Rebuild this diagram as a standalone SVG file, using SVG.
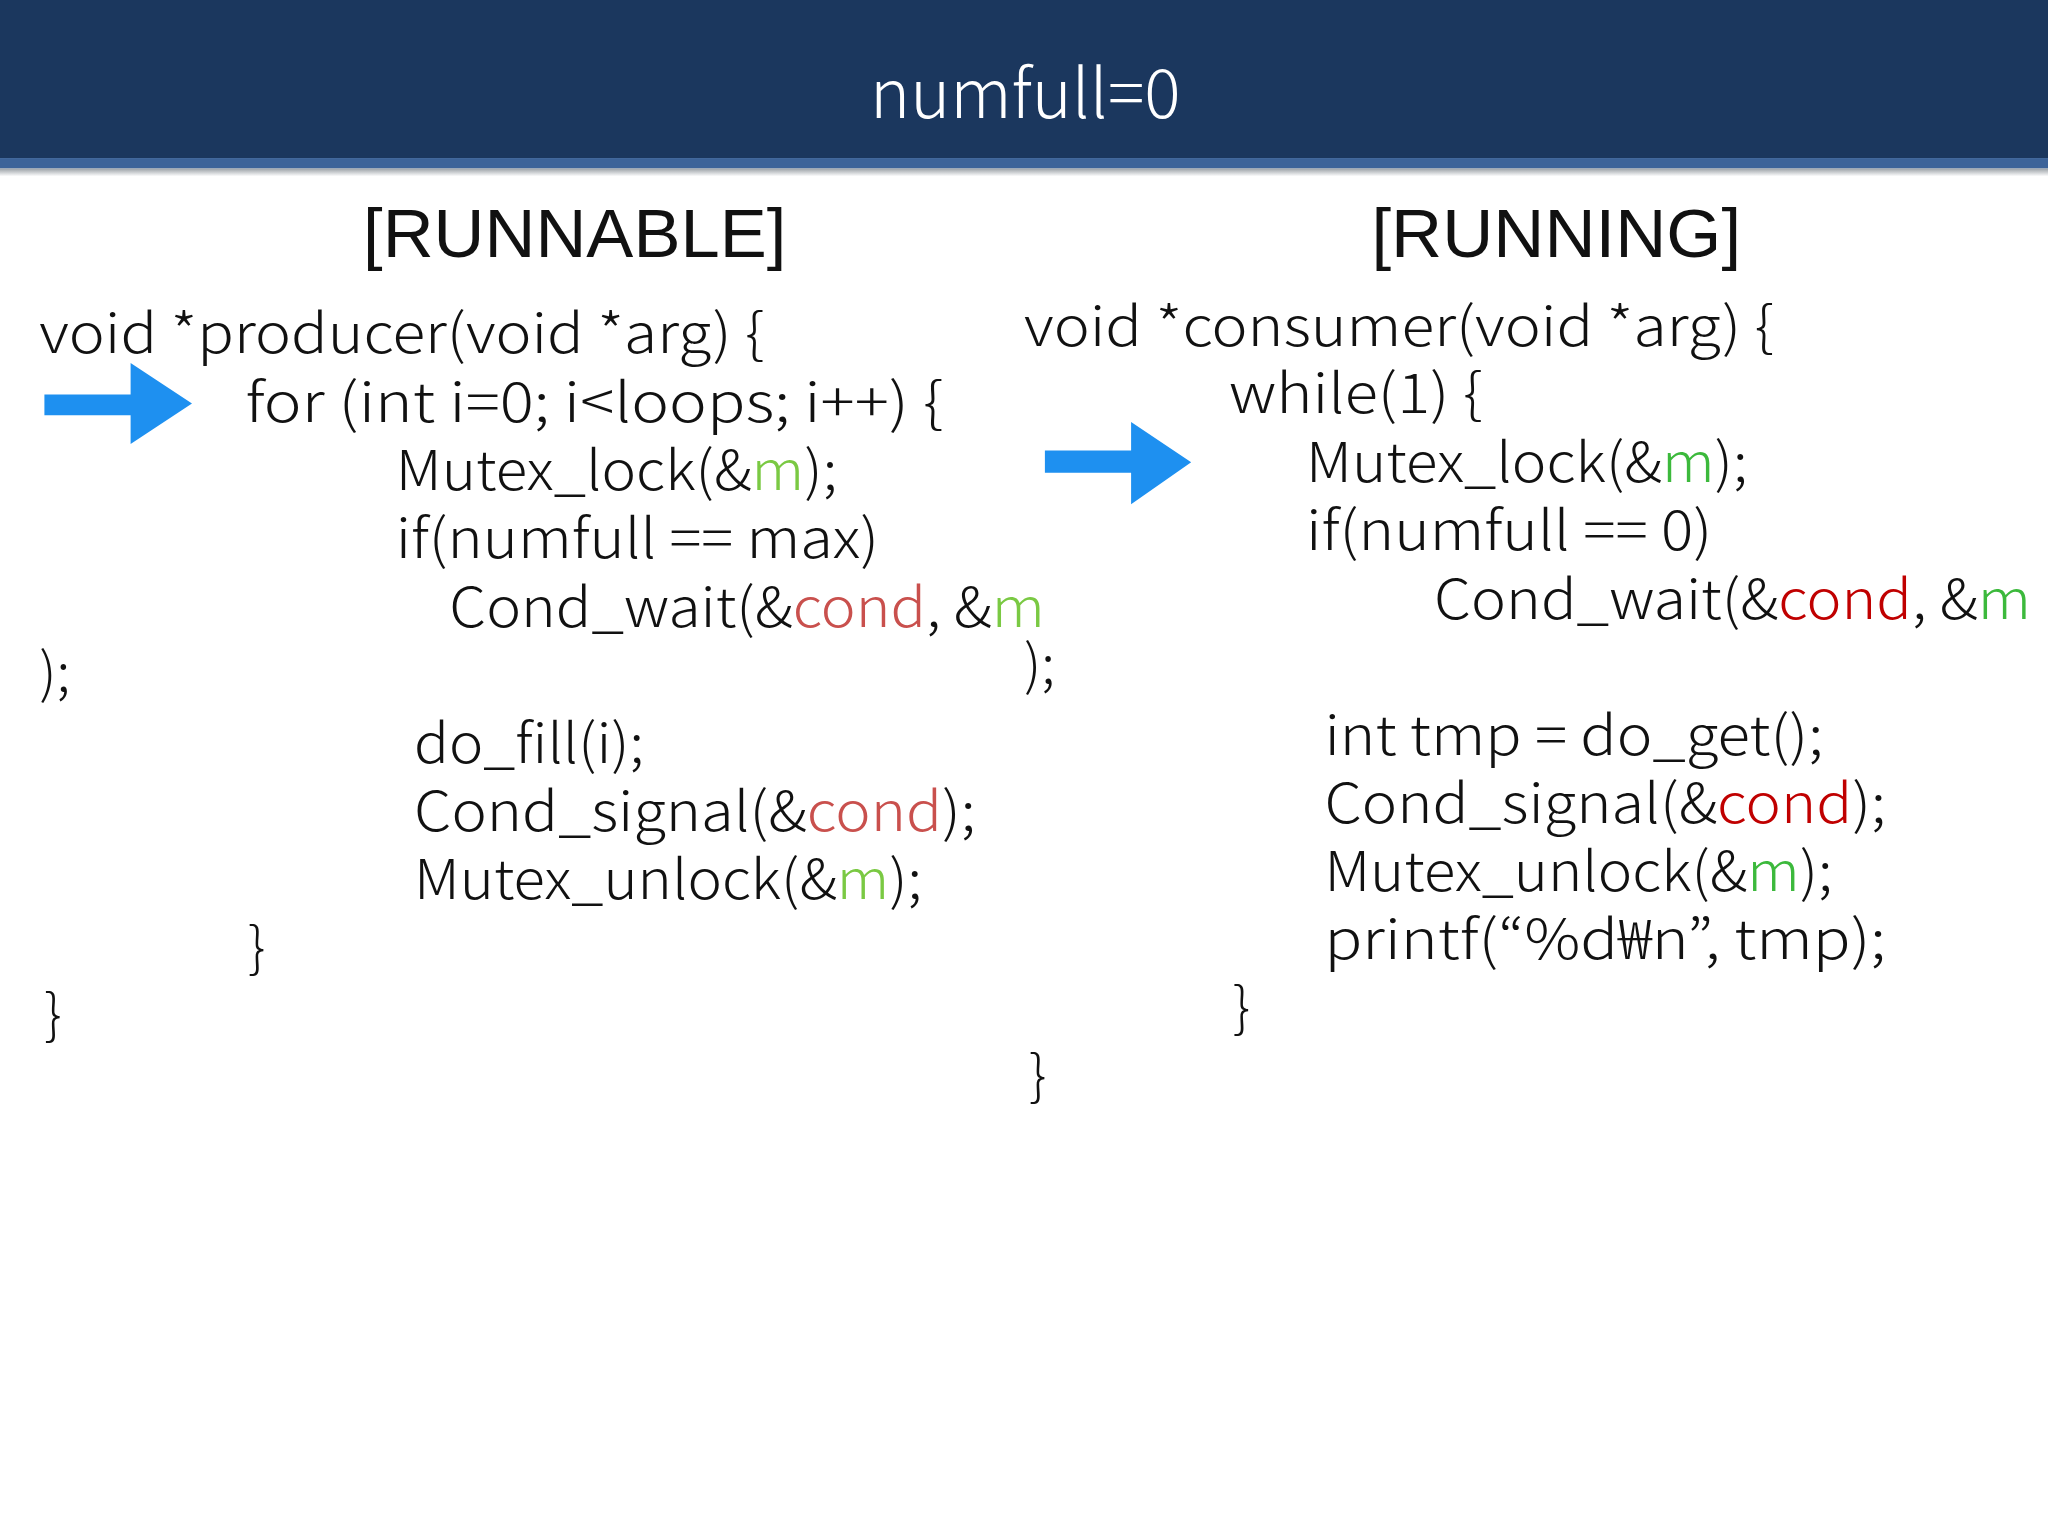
<svg xmlns="http://www.w3.org/2000/svg" width="2048" height="1536" viewBox="0 0 2048 1536">
<style>
.c{font-family:"Noto Sans CJK KR","Noto Sans",sans-serif;font-weight:300;font-size:42px;fill:#111}
.h{font-family:"Liberation Sans",Arial,sans-serif;font-size:52px;fill:#111}
.g1{fill:#7ac943}.r1{fill:#c9504d}.g2{fill:#3cb93c}.r2{fill:#c00000}
.arr{fill:#1e90f0}
</style>
<defs><linearGradient id="sh" x1="0" y1="0" x2="0" y2="1"><stop offset="0" stop-color="#9aa0a6"/><stop offset="1" stop-color="#ffffff"/></linearGradient></defs>
<rect width="2048" height="1536" fill="#fff"/>
<g transform="scale(1.30612)">
<g id="header">
<rect x="0" y="0" width="1568" height="121" fill="#1b375e"/>
<rect x="0" y="121" width="1568" height="8" fill="#3c6399"/>
<rect x="0" y="129" width="1568" height="6" fill="url(#sh)"/>
<text x="785" y="90" text-anchor="middle" style="font-family:'Noto Sans CJK KR','Noto Sans',sans-serif;font-weight:300;font-size:52px;fill:#fff">numfull=0</text>
</g>
<g id="producer">
<text class="h" x="278" y="197" textLength="324" lengthAdjust="spacingAndGlyphs">[RUNNABLE]</text>
<text class="c" x="30" y="270" textLength="555" lengthAdjust="spacingAndGlyphs">void *producer(void *arg) {</text>
<text class="c" x="188" y="323" textLength="534" lengthAdjust="spacingAndGlyphs">for (int i=0; i&lt;loops; i++) {</text>
<text class="c" x="303" y="375" textLength="338" lengthAdjust="spacingAndGlyphs">Mutex_lock(&amp;<tspan class="g1">m</tspan>);</text>
<text class="c" x="303" y="427" textLength="370" lengthAdjust="spacingAndGlyphs">if(numfull == max)</text>
<text class="c" x="344" y="480" textLength="456" lengthAdjust="spacingAndGlyphs">Cond_wait(&amp;<tspan class="r1">cond</tspan>, &amp;<tspan class="g1">m</tspan></text>
<text class="c" x="30" y="530">);</text>
<text class="c" x="317" y="584" textLength="176" lengthAdjust="spacingAndGlyphs">do_fill(i);</text>
<text class="c" x="317" y="636" textLength="430" lengthAdjust="spacingAndGlyphs">Cond_signal(&amp;<tspan class="r1">cond</tspan>);</text>
<text class="c" x="317" y="688" textLength="389" lengthAdjust="spacingAndGlyphs">Mutex_unlock(&amp;<tspan class="g1">m</tspan>);</text>
<text class="c" x="190" y="740">}</text>
<text class="c" x="34" y="792">}</text>
</g>
<g id="consumer">
<text class="h" x="1050" y="197" textLength="283" lengthAdjust="spacingAndGlyphs">[RUNNING]</text>
<text class="c" x="784" y="265" textLength="574" lengthAdjust="spacingAndGlyphs">void *consumer(void *arg) {</text>
<text class="c" x="941" y="316" textLength="194" lengthAdjust="spacingAndGlyphs">while(1) {</text>
<text class="c" x="1000" y="369" textLength="338" lengthAdjust="spacingAndGlyphs">Mutex_lock(&amp;<tspan class="g2">m</tspan>);</text>
<text class="c" x="1000" y="421" textLength="311" lengthAdjust="spacingAndGlyphs">if(numfull == 0)</text>
<text class="c" x="1098" y="474" textLength="457" lengthAdjust="spacingAndGlyphs">Cond_wait(&amp;<tspan class="r2">cond</tspan>, &amp;<tspan class="g2">m</tspan></text>
<text class="c" x="784" y="524">);</text>
<text class="c" x="1014" y="578" textLength="382" lengthAdjust="spacingAndGlyphs">int tmp = do_get();</text>
<text class="c" x="1014" y="630" textLength="430" lengthAdjust="spacingAndGlyphs">Cond_signal(&amp;<tspan class="r2">cond</tspan>);</text>
<text class="c" x="1014" y="682" textLength="389" lengthAdjust="spacingAndGlyphs">Mutex_unlock(&amp;<tspan class="g2">m</tspan>);</text>
<text class="c" x="1014" y="734" textLength="430" lengthAdjust="spacingAndGlyphs">printf(“%d₩n”, tmp);</text>
<text class="c" x="944" y="786">}</text>
<text class="c" x="788" y="838">}</text>
</g>
<g id="arrows">
<polygon class="arr" points="34,302 100,302 100,278 147,309 100,340 100,318 34,318"/>
<polygon class="arr" points="800,345 866,345 866,323 912,354 866,386 866,362 800,362"/>
</g>
</g>
</svg>
